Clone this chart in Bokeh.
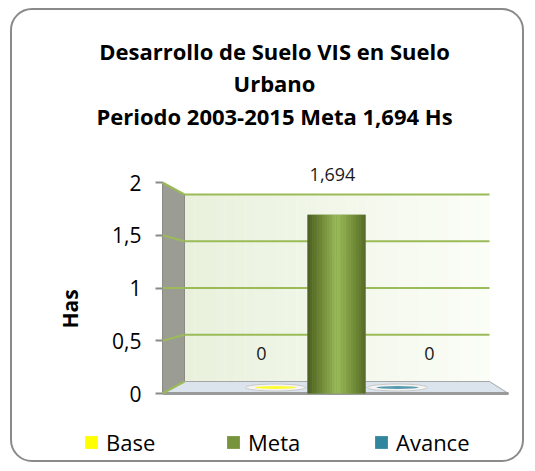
from bokeh.plotting import figure
from bokeh.models import Range1d, Label, Legend, LegendItem, FixedTicker, ColumnDataSource
from bokeh.embed import file_html
from bokeh.resources import INLINE
from bokeh.core.properties import value

# ---------------- data ----------------
categories = ["Base", "Meta", "Avance"]
values = [0, 1.694, 0]
value_labels = ["0", "1,694", "0"]
colors = ["#FFFF00", "#77933C", "#31859C"]
y_ticks = [0, 0.5, 1, 1.5, 2]
y_tick_labels = ["0", "0,5", "1", "1,5", "2"]
title_lines = ["Desarrollo de Suelo VIS en Suelo", "Urbano",
               "Periodo 2003-2015 Meta 1,694 Hs"]
y_axis_label = "Has"

# ---------------- layout (page pixels) ----------------
FONT = "Open Sans"
BORDER_X, BORDER_Y, BORDER_W = 10, 8, 2
W, H = 514, 454
CX0, CY0 = BORDER_X + BORDER_W, BORDER_Y + BORDER_W   # canvas origin on page
FL = 162                                  # front edge of side wall (axis)
X0_PX, X_STEP = 275, 61                  # category 0 position, spacing
Y0_PX, Y_UNIT = 393, 105.5               # front scale (axis)
BACK_Y0_PX, BACK_UNIT = 381, 93.5        # back wall scale
WALL_L, WALL_R = 184, 489
FLOOR_FR = 508
FLOOR_MID = 387
BAR_W_PX = 58
LABEL_DX = [-14, -4, 32]
LABEL_DY = -40
TITLE_X, TITLE_Y = 274, [50, 82, 115]
LEG_X = [83, 225, 373]
LEG_CY = 445
LEG_GLYPH = 16


def dx(px):
    return (px - X0_PX) / X_STEP


def dy(py):
    return (Y0_PX - py) / Y_UNIT


def back(v):
    return dy(BACK_Y0_PX - BACK_UNIT * v)


def lerp_color(c1, c2, t):
    a = [int(c1[i:i + 2], 16) for i in (1, 3, 5)]
    b = [int(c2[i:i + 2], 16) for i in (1, 3, 5)]
    return "#%02x%02x%02x" % tuple(round(a[k] + (b[k] - a[k]) * t) for k in range(3))


def gradient(stops, t):
    for (t0, c0), (t1, c1) in zip(stops[:-1], stops[1:]):
        if t0 <= t <= t1:
            return lerp_color(c0, c1, (t - t0) / (t1 - t0))
    return stops[-1][1]


xs = list(range(len(categories)))

p = figure(width=W, height=H,
           x_range=Range1d(dx(CX0), dx(CX0 + W)), y_range=Range1d(dy(CY0 + H), dy(CY0)),
           output_backend="svg", toolbar_location=None, x_axis_location=None,
           min_border=0, min_border_left=0, min_border_right=0,
           min_border_top=0, min_border_bottom=0)
p.styles = {"border": "%dpx solid #8a8a8a" % BORDER_W, "border-radius": "22px",
            "margin-left": "%dpx" % BORDER_X, "margin-top": "%dpx" % BORDER_Y}
p.background_fill_color = None
p.border_fill_color = None
p.outline_line_color = None
p.grid.visible = False
p.title.visible = False

# back wall (horizontal gradient)
N = 30
wl, wr = dx(WALL_L), dx(WALL_R)
step = (wr - wl) / N
p.quad(left=[wl + i * step for i in range(N)], right=[wl + (i + 1) * step + 0.002 for i in range(N)],
       bottom=back(0), top=back(2),
       color=[lerp_color("#e9f1dc", "#fbfdf7", i / (N - 1)) for i in range(N)], line_color=None)

# side wall
p.patch([dx(FL), dx(FL), dx(WALL_L), dx(WALL_L)], [0, 2, back(2), back(0)],
        fill_color="#9b9c94", line_color="#8a8a84", line_width=1)

# floor
p.patch([dx(FL), dx(WALL_L), dx(WALL_R), dx(FLOOR_FR)], [0, back(0), back(0), 0],
        fill_color="#dbe3ec", line_color="#a6a6a6", line_width=1)
p.line([dx(FL), dx(FLOOR_FR)], [0, 0], line_color="#9a9a9a", line_width=3)

# gridlines
for v in y_ticks:
    p.line([dx(FL), dx(WALL_L)], [v, back(v)], line_color="#9bbb59", line_width=2)
    if v > 0:
        p.line([dx(WALL_L), dx(WALL_R)], [back(v), back(v)], line_color="#9bbb59", line_width=2)

# zero-height bar bases (ellipses on the floor)
p.ellipse(x=xs, y=dy(FLOOR_MID), width=BAR_W_PX + 2, height=7, width_units="screen",
          height_units="screen", fill_color="#f4f4f4", line_color="#c8c8c8")
p.ellipse(x=xs, y=dy(FLOOR_MID), width=BAR_W_PX - 16, height=3, width_units="screen",
          height_units="screen", fill_color=colors, line_color=None, fill_alpha=0.8)

# bars
bw = BAR_W_PX / X_STEP
bars = p.vbar(x=xs, top=values, bottom=0, width=bw, fill_color=colors, line_color=None)

stops = [(0.0, "#4a5e22"), (0.15, "#61782d"), (0.5, "#9aba5a"), (0.62, "#8eac4f"),
         (0.85, "#6a8432"), (1.0, "#55692a")]
M = 24
for xi, v in zip(xs, values):
    if v > 0:
        sw = bw / M
        p.quad(left=[xi - bw / 2 + k * sw for k in range(M)],
               right=[xi - bw / 2 + (k + 1) * sw + 0.001 for k in range(M)],
               bottom=0, top=v, line_color=None,
               color=[gradient(stops, (k + 0.5) / M) for k in range(M)])

# value labels
lab_src = ColumnDataSource(dict(x=xs, y=values, t=value_labels, ox=LABEL_DX))
p.text(x="x", y="y", text="t", x_offset="ox", y_offset=LABEL_DY, source=lab_src,
       text_align="center", text_baseline="middle", text_font=value(FONT),
       text_font_size="18px", text_color="#1a1a1a")

# title
for line, ty in zip(title_lines, TITLE_Y):
    p.add_layout(Label(x=dx(TITLE_X), y=dy(ty), text=line, text_align="center",
                       text_baseline="middle", text_font=FONT, text_font_size="22px",
                       text_font_style="bold", text_color="#000000"))

# y axis, drawn at the front edge of the side wall
ax = p.yaxis[0]
ax.fixed_location = dx(FL)
ax.bounds = (-0.4, 2)
ax.ticker = FixedTicker(ticks=y_ticks)
ax.major_label_overrides = {t: s for t, s in zip(y_ticks, y_tick_labels)}
ax.axis_line_color = None
ax.major_tick_line_color = "#8a8a8a"
ax.major_tick_line_width = 2
ax.major_tick_out = 7
ax.major_tick_in = 0
ax.minor_tick_line_color = None
ax.major_label_standoff = 14
ax.major_label_text_font = FONT
ax.major_label_text_font_size = "21px"
ax.major_label_text_color = "#000000"
ax.axis_label = y_axis_label
ax.axis_label_text_font = FONT
ax.axis_label_text_font_size = "21px"
ax.axis_label_text_font_style = "bold"
ax.axis_label_text_color = "#000000"
ax.axis_label_standoff = 25

# legend (one per entry, placed individually)
for i, cat in enumerate(categories):
    leg = Legend(items=[LegendItem(label=cat, renderers=[bars], index=i)],
                 location=(LEG_X[i] - CX0, CY0 + H - (LEG_CY + 12)),
                 orientation="horizontal", glyph_width=LEG_GLYPH, glyph_height=LEG_GLYPH,
                 label_standoff=7, padding=0, margin=0, border_line_color=None,
                 background_fill_alpha=0, label_text_font=FONT,
                 label_text_font_size="22px", label_text_color="#000000")
    p.add_layout(leg)

open("out.html", "w").write(file_html(p, INLINE))
